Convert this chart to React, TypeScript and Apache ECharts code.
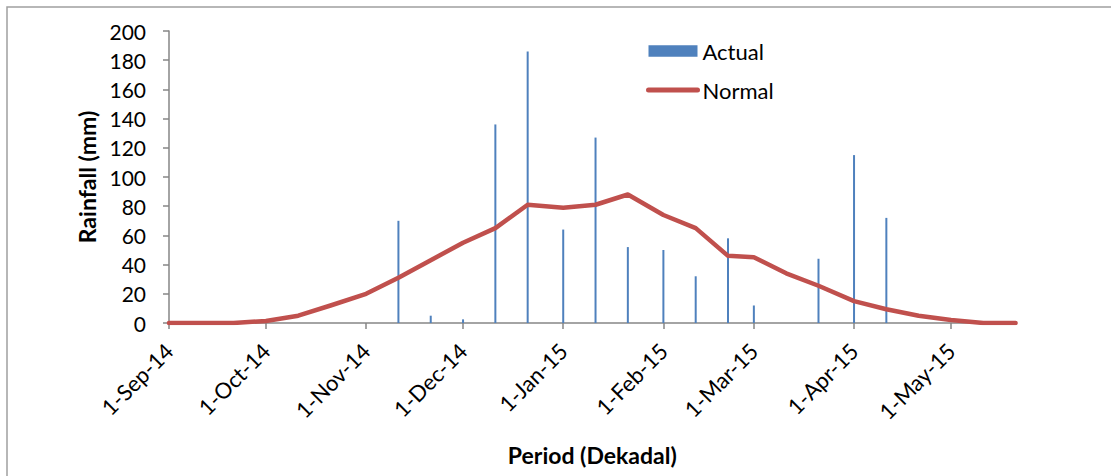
import React, { useEffect, useRef } from 'react';
import * as echarts from 'echarts';

// Dekad start dates (1st, 11th, 21st of each month)
const dekads: string[] = [
  '2014-09-01', '2014-09-11', '2014-09-21',
  '2014-10-01', '2014-10-11', '2014-10-21',
  '2014-11-01', '2014-11-11', '2014-11-21',
  '2014-12-01', '2014-12-11', '2014-12-21',
  '2015-01-01', '2015-01-11', '2015-01-21',
  '2015-02-01', '2015-02-11', '2015-02-21',
  '2015-03-01', '2015-03-11', '2015-03-21',
  '2015-04-01', '2015-04-11', '2015-04-21',
  '2015-05-01', '2015-05-11', '2015-05-21',
];

// Actual dekadal rainfall (mm)
const actual: number[] = [
  0, 0, 0,
  0, 0, 0,
  0, 70, 5,
  2.5, 136, 186,
  64, 127, 52,
  50, 32, 58,
  12, 0, 44,
  115, 72, 0,
  0, 0, 0,
];

// Normal dekadal rainfall (mm)
const normal: number[] = [
  0, 0, 0,
  1.4, 5, 12,
  20, 31, 43,
  55, 65, 81,
  79, 81, 88,
  74, 65, 46,
  45, 34, 25.5,
  15, 9.4, 5,
  2, 0, 0,
];

// Month tick positions on the x axis
const monthTicks: string[] = [
  '2014-09-01', '2014-10-01', '2014-11-01', '2014-12-01',
  '2015-01-01', '2015-02-01', '2015-03-01', '2015-04-01', '2015-05-01',
];

const MONTHS = ['Jan', 'Feb', 'Mar', 'Apr', 'May', 'Jun', 'Jul', 'Aug', 'Sep', 'Oct', 'Nov', 'Dec'];

function toTs(s: string): number {
  const [y, m, d] = s.split('-').map(Number);
  return new Date(y, m - 1, d).getTime();
}

function fmt(v: number): string {
  const d = new Date(v);
  return `${d.getDate()}-${MONTHS[d.getMonth()]}-${String(d.getFullYear()).slice(2)}`;
}

const FONT = 'Lato';
const AXIS_COLOR = '#868686';

export default function App() {
  const ref = useRef<HTMLDivElement>(null);

  useEffect(() => {
    document.body.style.margin = '0';
    const chart = echarts.init(ref.current as HTMLDivElement, null, { renderer: 'svg' });
    const tickTs = monthTicks.map(toTs);

    chart.setOption({
      animation: false,
      backgroundColor: '#ffffff',
      grid: { left: 169, top: 31, right: 95.4, bottom: 153, containLabel: false },
      legend: {
        left: 641,
        top: 35,
        orient: 'vertical',
        itemWidth: 49,
        itemHeight: 11.5,
        itemGap: 17,
        textStyle: { fontFamily: FONT, fontSize: 22, color: '#000' },
        data: [
          { name: 'Actual', icon: 'rect' },
          {
            name: 'Normal',
            itemStyle: { opacity: 0 },
            lineStyle: { width: 5, cap: 'round', color: '#C0504D' },
          },
        ],
      },
      xAxis: {
        type: 'value',
        min: toTs(dekads[0]),
        max: toTs(dekads[dekads.length - 1]),
        axisLine: { show: true, lineStyle: { color: AXIS_COLOR, width: 1.5 } },
        axisTick: { show: true, length: 6, customValues: tickTs, lineStyle: { color: AXIS_COLOR, width: 1.5 } },
        axisLabel: {
          customValues: tickTs,
          rotate: 45,
          margin: 24,
          fontFamily: FONT,
          fontSize: 22,
          color: '#000',
          formatter: (v: number) => fmt(v),
        },
        splitLine: { show: false },
        name: 'Period (Dekadal)',
        nameLocation: 'middle',
        nameGap: 120,
        nameTextStyle: { fontFamily: FONT, fontWeight: 'bold', fontSize: 23, color: '#000' },
      },
      yAxis: {
        type: 'value',
        min: 0,
        max: 200,
        interval: 20,
        axisLine: { show: true, lineStyle: { color: AXIS_COLOR, width: 1.5 } },
        axisTick: { show: true, length: 6, lineStyle: { color: AXIS_COLOR, width: 1.5 } },
        axisLabel: { margin: 23, fontFamily: FONT, fontSize: 21, color: '#000' },
        splitLine: { show: false },
        name: 'Rainfall (mm)',
        nameLocation: 'middle',
        nameGap: 70,
        nameRotate: 90,
        nameTextStyle: { fontFamily: FONT, fontWeight: 'bold', fontSize: 23, color: '#000' },
      },
      graphic: [
        {
          type: 'rect',
          shape: { x: 7, y: 7, width: 1200, height: 600 },
          style: { fill: 'none', stroke: '#a0a0a0', lineWidth: 1.5 },
          silent: true,
        },
      ],
      series: [
        {
          name: 'Actual',
          type: 'bar',
          barWidth: 2,
          data: dekads.map((d, i) => [toTs(d), actual[i]]),
          itemStyle: { color: '#4F81BD' },
          z: 2,
        },
        {
          name: 'Normal',
          type: 'line',
          symbol: 'none',
          data: dekads.map((d, i) => [toTs(d), normal[i]]),
          lineStyle: { color: '#C0504D', width: 4.5, cap: 'round', join: 'round' },
          itemStyle: { color: '#C0504D' },
          z: 3,
        },
      ],
    });

    return () => chart.dispose();
  }, []);

  return <div ref={ref} style={{ width: 1111, height: 476 }} />;
}
